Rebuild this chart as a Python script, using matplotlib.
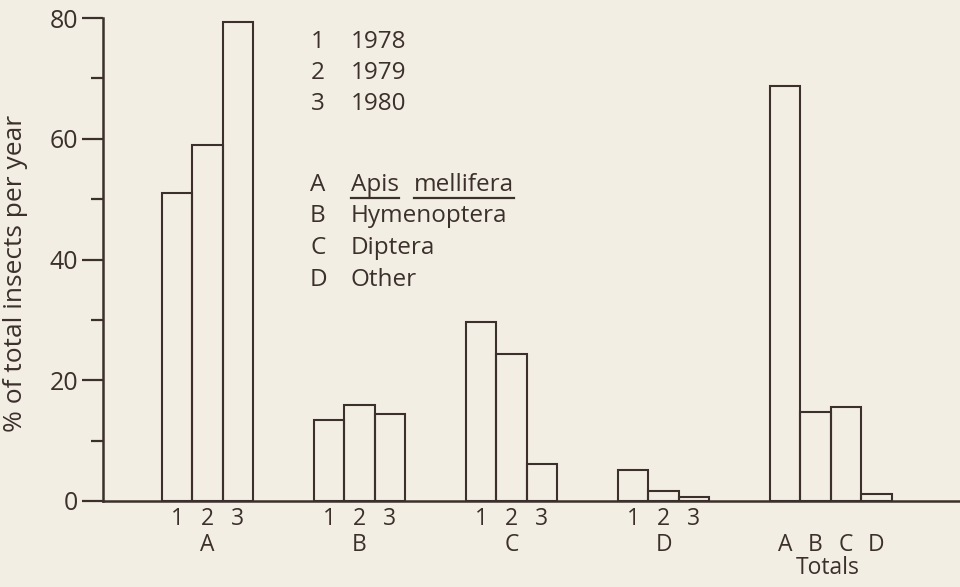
import matplotlib.pyplot as plt
import numpy as np
from matplotlib.lines import Line2D

# values (% of total insects per year)
groups = ["A", "B", "C", "D"]
years = ["1", "2", "3"]
pct_1978 = [51.0, 13.4, 29.6, 5.1]
pct_1979 = [59.0, 15.9, 24.3, 1.7]
pct_1980 = [79.3, 14.4, 6.1, 0.7]
totals = [68.7, 14.7, 15.6, 1.2]

year_names = ["1978", "1979", "1980"]
group_names = ["Apis mellifera", "Hymenoptera", "Diptera", "Other"]

bg = "#f3eee4"
ink = "#3b302c"
plt.rcParams["font.family"] = ["Open Sans", "DejaVu Sans"]
plt.rcParams["text.color"] = ink

fig = plt.figure(figsize=(9.6, 5.87), dpi=100, facecolor=bg)
W, H = 960, 587
ax = fig.add_axes([103 / W, (H - 501) / H, (W - 103) / W, (501 - 18) / H])
ax.set_facecolor(bg)

series = [pct_1978, pct_1979, pct_1980]
xt, xl = [], []
for i, g in enumerate(groups):
    for j in range(3):
        x = 5 * i + j + 0.5
        ax.bar(x, series[j][i], width=1.0, facecolor="none", edgecolor=ink, linewidth=1.5)
        xt.append(x)
        xl.append(years[j])
    ax.annotate(g, xy=(5 * i + 1.5, 0), xycoords=("data", "axes fraction"),
                xytext=(0, -32), textcoords="offset points", ha="center", va="center",
                fontsize=16.5)

for k, g in enumerate(groups):
    x = 20 + k + 0.5
    ax.bar(x, totals[k], width=1.0, facecolor="none", edgecolor=ink, linewidth=1.5)
    ax.annotate(g, xy=(x, 0), xycoords=("data", "axes fraction"),
                xytext=(0, -32), textcoords="offset points", ha="center", va="center",
                fontsize=16.5)
ax.annotate("Totals", xy=(21.9, 0), xycoords=("data", "axes fraction"),
            xytext=(0, -48.5), textcoords="offset points", ha="center", va="center",
            fontsize=16.5)

ax.set_xticks(xt)
ax.set_xticklabels(xl, fontsize=16.5)
ax.tick_params(axis="x", length=0, pad=4, colors=ink)

ax.set_xlim(-1.94, 26.25)
ax.set_ylim(0, 80)
ax.set_yticks([0, 20, 40, 60, 80])
ax.set_yticks([10, 30, 50, 70], minor=True)
ax.tick_params(axis="y", which="major", length=15, width=1.6, pad=3, labelsize=18, colors=ink)
ax.tick_params(axis="y", which="minor", length=9, width=1.6, colors=ink)

for s in ["top", "right"]:
    ax.spines[s].set_visible(False)
for s in ["left", "bottom"]:
    ax.spines[s].set_color(ink)
    ax.spines[s].set_linewidth(1.8)

ax.set_ylabel("% of total insects per year", fontsize=19, color=ink)
ax.yaxis.set_label_coords(-0.087, 0.472)

# key in the upper middle
def px(x, y):
    return x / W, 1 - y / H

for k, (n, name) in enumerate(zip(years, year_names)):
    fig.text(*px(318, 42 + 31 * k), n, ha="center", va="center", fontsize=17.5)
    fig.text(*px(351, 42 + 31 * k), name, ha="left", va="center", fontsize=17.5)

for k, (g, name) in enumerate(zip(groups, group_names)):
    fig.text(*px(318, 185 + 31.5 * k), g, ha="center", va="center", fontsize=17.5)
    if k == 0:
        t1 = fig.text(*px(351, 185), "Apis", ha="left", va="center", fontsize=17.5)
        t2 = fig.text(*px(414, 185), "mellifera", ha="left", va="center", fontsize=17.5)
    else:
        fig.text(*px(351, 185 + 31.5 * k), name, ha="left", va="center", fontsize=17.5)

fig.canvas.draw()
r = fig.canvas.get_renderer()
for t in (t1, t2):
    bb = t.get_window_extent(r)
    yline = bb.y0 - 1
    fig.add_artist(Line2D([bb.x0 / W, bb.x1 / W], [yline / H, yline / H],
                          transform=fig.transFigure, color=ink, linewidth=1.6))

fig.savefig("out.png", dpi=100, facecolor=bg)
